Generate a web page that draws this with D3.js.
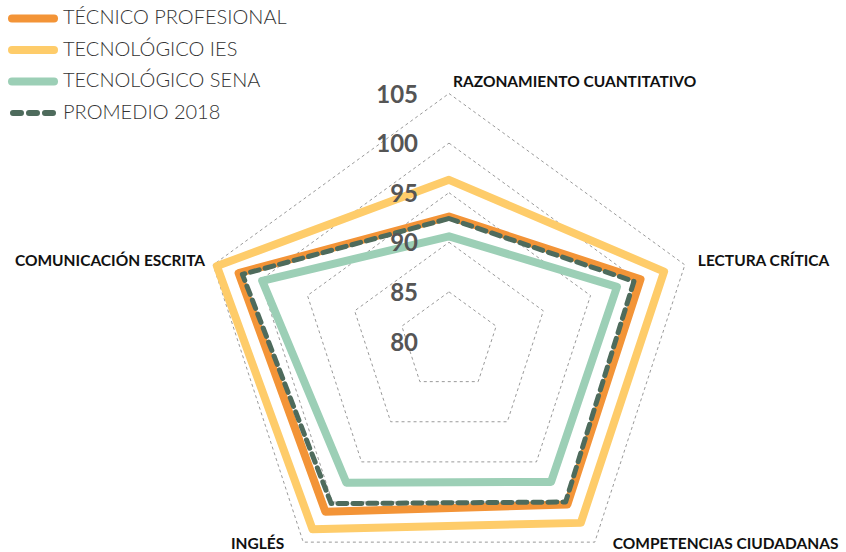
<!DOCTYPE html>
<html>
<head>
<meta charset="utf-8">
<script src="https://cdn.jsdelivr.net/npm/d3@7"></script>
<style>
  html, body { margin: 0; padding: 0; background: #fff; }
  svg { display: block; }
</style>
</head>
<body>
<svg id="chart" width="846" height="552"></svg>
<script>
const axes = ["RAZONAMIENTO CUANTITATIVO", "LECTURA CRÍTICA", "COMPETENCIAS CIUDADANAS", "INGLÉS", "COMUNICACIÓN ESCRITA"];
const tecnicoProfesional = [92.6, 100.3, 100.3, 101.2, 102.3];
const tecnologicoIES = [96.3, 102.8, 102.6, 103.4, 104.6];
const tecnologicoSENA = [90.6, 97.8, 97.5, 97.6, 99.8];
const promedio2018 = [92.4, 99.6, 100.0, 100.2, 101.9];
const ticks = [80, 85, 90, 95, 100, 105];
const seriesNames = ["TÉCNICO PROFESIONAL", "TECNOLÓGICO IES", "TECNOLÓGICO SENA", "PROMEDIO 2018"];

const svg = d3.select("#chart");
const cx = 449, cy = 341.5, R = 248;
const r = d3.scaleLinear().domain([80, 105]).range([0, R]);
const angle = d3.scaleLinear().domain([0, axes.length]).range([0, 2 * Math.PI]);

function pt(i, v) {
  const a = angle(i);
  return [cx + r(v) * Math.sin(a), cy - r(v) * Math.cos(a)];
}

const line = d3.line().curve(d3.curveLinearClosed);

// grid
svg.append("g").selectAll("path")
  .data(ticks.filter(t => t > 80))
  .join("path")
  .attr("d", t => line(axes.map((_, i) => pt(i, t))))
  .attr("fill", "none")
  .attr("stroke", "#9a9a9a")
  .attr("stroke-width", 1)
  .attr("stroke-dasharray", "3,3");

const series = [
  { name: seriesNames[1], values: tecnologicoIES, color: "#FECC6A", width: 8, dash: null },
  { name: seriesNames[2], values: tecnologicoSENA, color: "#9CCFB6", width: 8, dash: null },
  { name: seriesNames[0], values: tecnicoProfesional, color: "#F39437", width: 8, dash: null },
  { name: seriesNames[3], values: promedio2018, color: "#4E6B5C", width: 5, dash: "9,6" }
];

svg.append("g").selectAll("path")
  .data(series)
  .join("path")
  .attr("d", s => line(s.values.map((v, i) => pt(i, v))))
  .attr("fill", "none")
  .attr("stroke", s => s.color)
  .attr("stroke-width", s => s.width)
  .attr("stroke-linejoin", "round")
  .attr("stroke-linecap", "round")
  .attr("stroke-dasharray", s => s.dash);

// tick labels
svg.append("g").selectAll("text")
  .data(ticks)
  .join("text")
  .attr("x", 418)
  .attr("y", t => cy - r(t) + 3)
  .attr("text-anchor", "end")
  .attr("dominant-baseline", "middle")
  .attr("font-family", "Lato, 'Open Sans', sans-serif")
  .attr("font-weight", "bold")
  .attr("font-size", 24)
  .attr("fill", "#555")
  .text(t => t);

// axis labels
const labelPos = [
  { dx: 4, dy: -10, anchor: "start" },
  { dx: 13, dy: -3, anchor: "start" },
  { dx: 18, dy: 3, anchor: "start" },
  { dx: -19, dy: 3, anchor: "end" },
  { dx: -8, dy: -3, anchor: "end" }
];
const axisLabels = svg.append("g").selectAll("text")
  .data(axes)
  .join("text")
  .attr("x", (d, i) => pt(i, 105)[0] + labelPos[i].dx)
  .attr("y", (d, i) => pt(i, 105)[1] + labelPos[i].dy)
  .attr("text-anchor", (d, i) => labelPos[i].anchor)
  .attr("dominant-baseline", "middle")
  .attr("font-family", "Lato, 'Open Sans', sans-serif")
  .attr("font-weight", "bold")
  .attr("font-size", 15.5)
  .attr("fill", "#111")
  .text(d => d);
// keep labels inside the canvas
axisLabels.each(function () {
  const bb = this.getBBox();
  if (bb.x + bb.width > 840) {
    d3.select(this).attr("font-size", 15.5 * (840 - bb.x) / bb.width);
  }
});

// legend
const legendItems = [
  { name: seriesNames[0], color: "#F39437", width: 8, dash: null },
  { name: seriesNames[1], color: "#FECC6A", width: 8, dash: null },
  { name: seriesNames[2], color: "#9CCFB6", width: 8, dash: null },
  { name: seriesNames[3], color: "#4E6B5C", width: 6, dash: "8,8" }
];
const lg = svg.append("g").selectAll("g")
  .data(legendItems)
  .join("g")
  .attr("transform", (d, i) => `translate(0, ${18.5 + i * 31.5})`);
lg.append("line")
  .attr("x1", d => d.dash ? 13 : 12)
  .attr("x2", d => d.dash ? 53 : 54)
  .attr("y1", 0).attr("y2", 0)
  .attr("stroke", d => d.color)
  .attr("stroke-width", d => d.width)
  .attr("stroke-linecap", "round")
  .attr("stroke-dasharray", d => d.dash);
lg.append("text")
  .attr("x", 63)
  .attr("y", 1)
  .attr("dominant-baseline", "middle")
  .attr("font-family", "Lato, 'Open Sans', sans-serif")
  .attr("font-weight", 300)
  .attr("font-size", 20)
  .attr("fill", "#333")
  .text(d => d.name);
</script>
</body>
</html>
